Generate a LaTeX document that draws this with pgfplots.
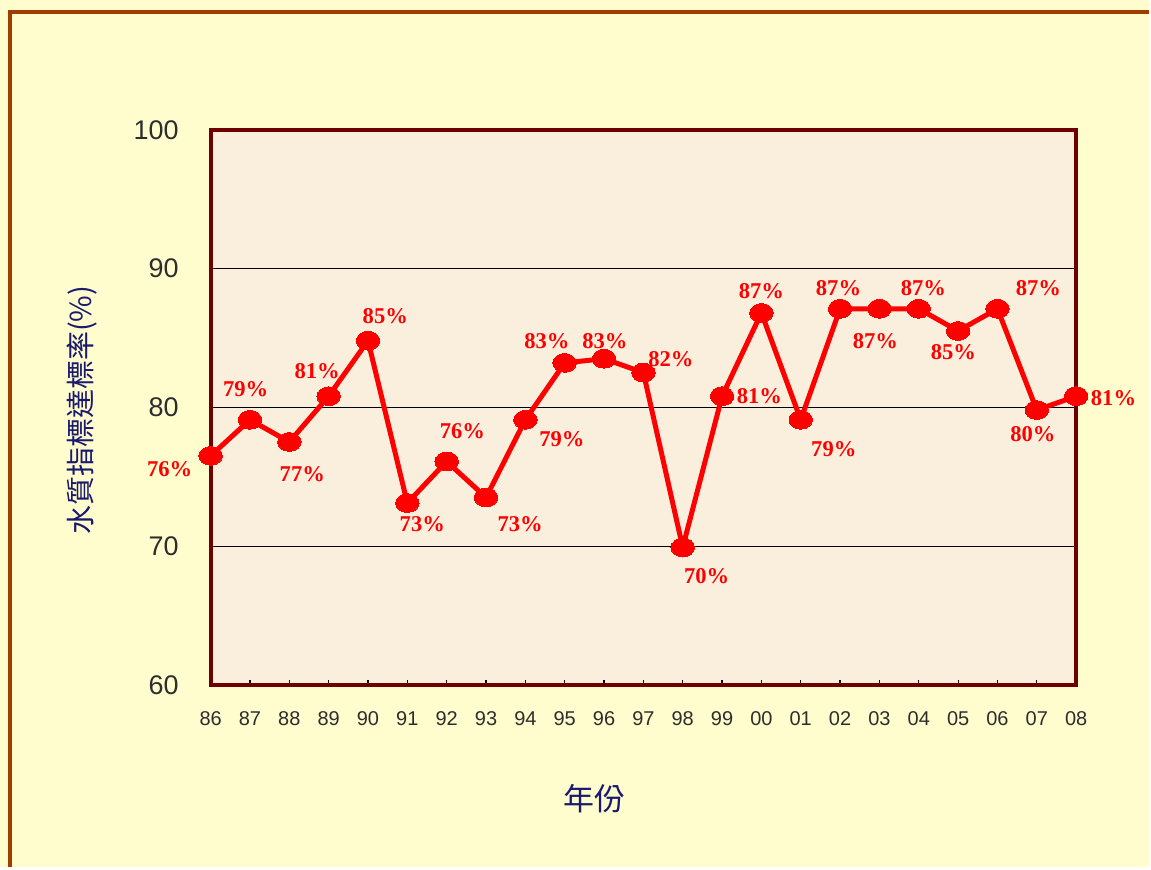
\documentclass[border=0pt]{standalone}
\usepackage{pgfplots}
\pgfplotsset{compat=1.18}
\usepackage{fontspec}
\setmainfont{Liberation Sans}
\newfontfamily\cjk{Noto Sans CJK TC}
\newfontfamily\serifb{Liberation Serif}
\definecolor{bgy}{RGB}{255,252,206}
\definecolor{bordc}{RGB}{163,60,0}
\definecolor{plotbg}{RGB}{249,239,220}
\definecolor{axframe}{RGB}{110,0,0}
\definecolor{navy}{RGB}{25,25,110}
\definecolor{ticktxt}{RGB}{45,45,45}
\definecolor{lred}{RGB}{255,0,0}
\pgfplotstableread{
x y
0 76.5
1 79.1
2 77.5
3 80.8
4 84.8
5 73.1
6 76.1
7 73.5
8 79.1
9 83.2
10 83.5
11 82.5
12 69.9
13 80.8
14 86.8
15 79.1
16 87.1
17 87.1
18 87.1
19 85.5
20 87.1
21 79.8
22 80.8
}\datatable
\begin{document}
\begin{tikzpicture}
\fill[bgy] (0,0) rectangle (575.5pt,-434.5pt);
\draw[bordc, line width=2pt] (5pt,-434.5pt) -- (5pt,-6pt) -- (575.5pt,-6pt);
\begin{axis}[
  at={(105.5pt,-65pt)}, anchor=north west,
  scale only axis, width=433.5pt, height=278pt,
  xmin=0, xmax=22, ymin=60, ymax=100,
  xtick={0,...,22},
  xticklabels={86,87,88,89,90,91,92,93,94,95,96,97,98,99,00,01,02,03,04,05,06,07,08},
  ytick={60,70,80,90,100},
  /pgf/number format/assume math mode=true,
  ymajorgrids,
  major grid style={black, line width=0.5pt},
  axis line style={draw=axframe, line width=2pt},
  axis background/.style={fill=plotbg},
  tick align=inside,
  xtick pos=lower, ytick pos=left,
  major tick length=2.5pt,
  xtick style={black, line width=0.6pt},
  ytick style={draw=none},
  x tick label style={font=\fontsize{10}{12}\selectfont, color=ticktxt, yshift=-10pt},
  y tick label style={font=\fontsize{13.5}{15}\selectfont, color=ticktxt, xshift=-12.5pt},
  xlabel={\cjk 年份},
  xlabel style={at={(axis description cs:0.444,0)}, anchor=center, yshift=-57pt, font=\fontsize{15.5}{18}\selectfont, color=navy},
  ylabel={\cjk 水質指標達標率(\%)},
  ylabel style={at={(axis description cs:-0.149,0.495)}, anchor=center, rotate=0, font=\fontsize{14.5}{17}\selectfont, color=navy},
  clip=false,
]
\addplot[lred, line width=2.5pt, mark=*, mark size=4.7pt, mark options={xscale=1.25, fill=lred, draw=lred, line width=0pt}] table[x=x,y=y] {\datatable};
\begin{scope}[every node/.style={font=\serifb\bfseries\fontsize{11.3}{13}\selectfont, text=lred, inner sep=0pt}]
\node at (axis cs:-1.04,75.55) {76\%};
\node at (axis cs:0.89,81.3) {79\%};
\node at (axis cs:2.33,75.2) {77\%};
\node at (axis cs:2.71,82.6) {81\%};
\node at (axis cs:4.44,86.6) {85\%};
\node at (axis cs:5.38,71.6) {73\%};
\node at (axis cs:6.40,78.3) {76\%};
\node at (axis cs:7.87,71.6) {73\%};
\node at (axis cs:8.93,77.7) {79\%};
\node at (axis cs:8.55,84.75) {83\%};
\node at (axis cs:10.02,84.75) {83\%};
\node at (axis cs:11.7,83.45) {82\%};
\node at (axis cs:12.61,67.8) {70\%};
\node at (axis cs:13.95,80.8) {81\%};
\node at (axis cs:14.0,88.35) {87\%};
\node at (axis cs:15.84,77.0) {79\%};
\node at (axis cs:15.96,88.6) {87\%};
\node at (axis cs:16.9,84.75) {87\%};
\node at (axis cs:18.12,88.6) {87\%};
\node at (axis cs:18.88,84.0) {85\%};
\node at (axis cs:21.04,88.6) {87\%};
\node at (axis cs:20.9,78.06) {80\%};
\node at (axis cs:22.95,80.65) {81\%};
\end{scope}
\end{axis}
\end{tikzpicture}
\end{document}
